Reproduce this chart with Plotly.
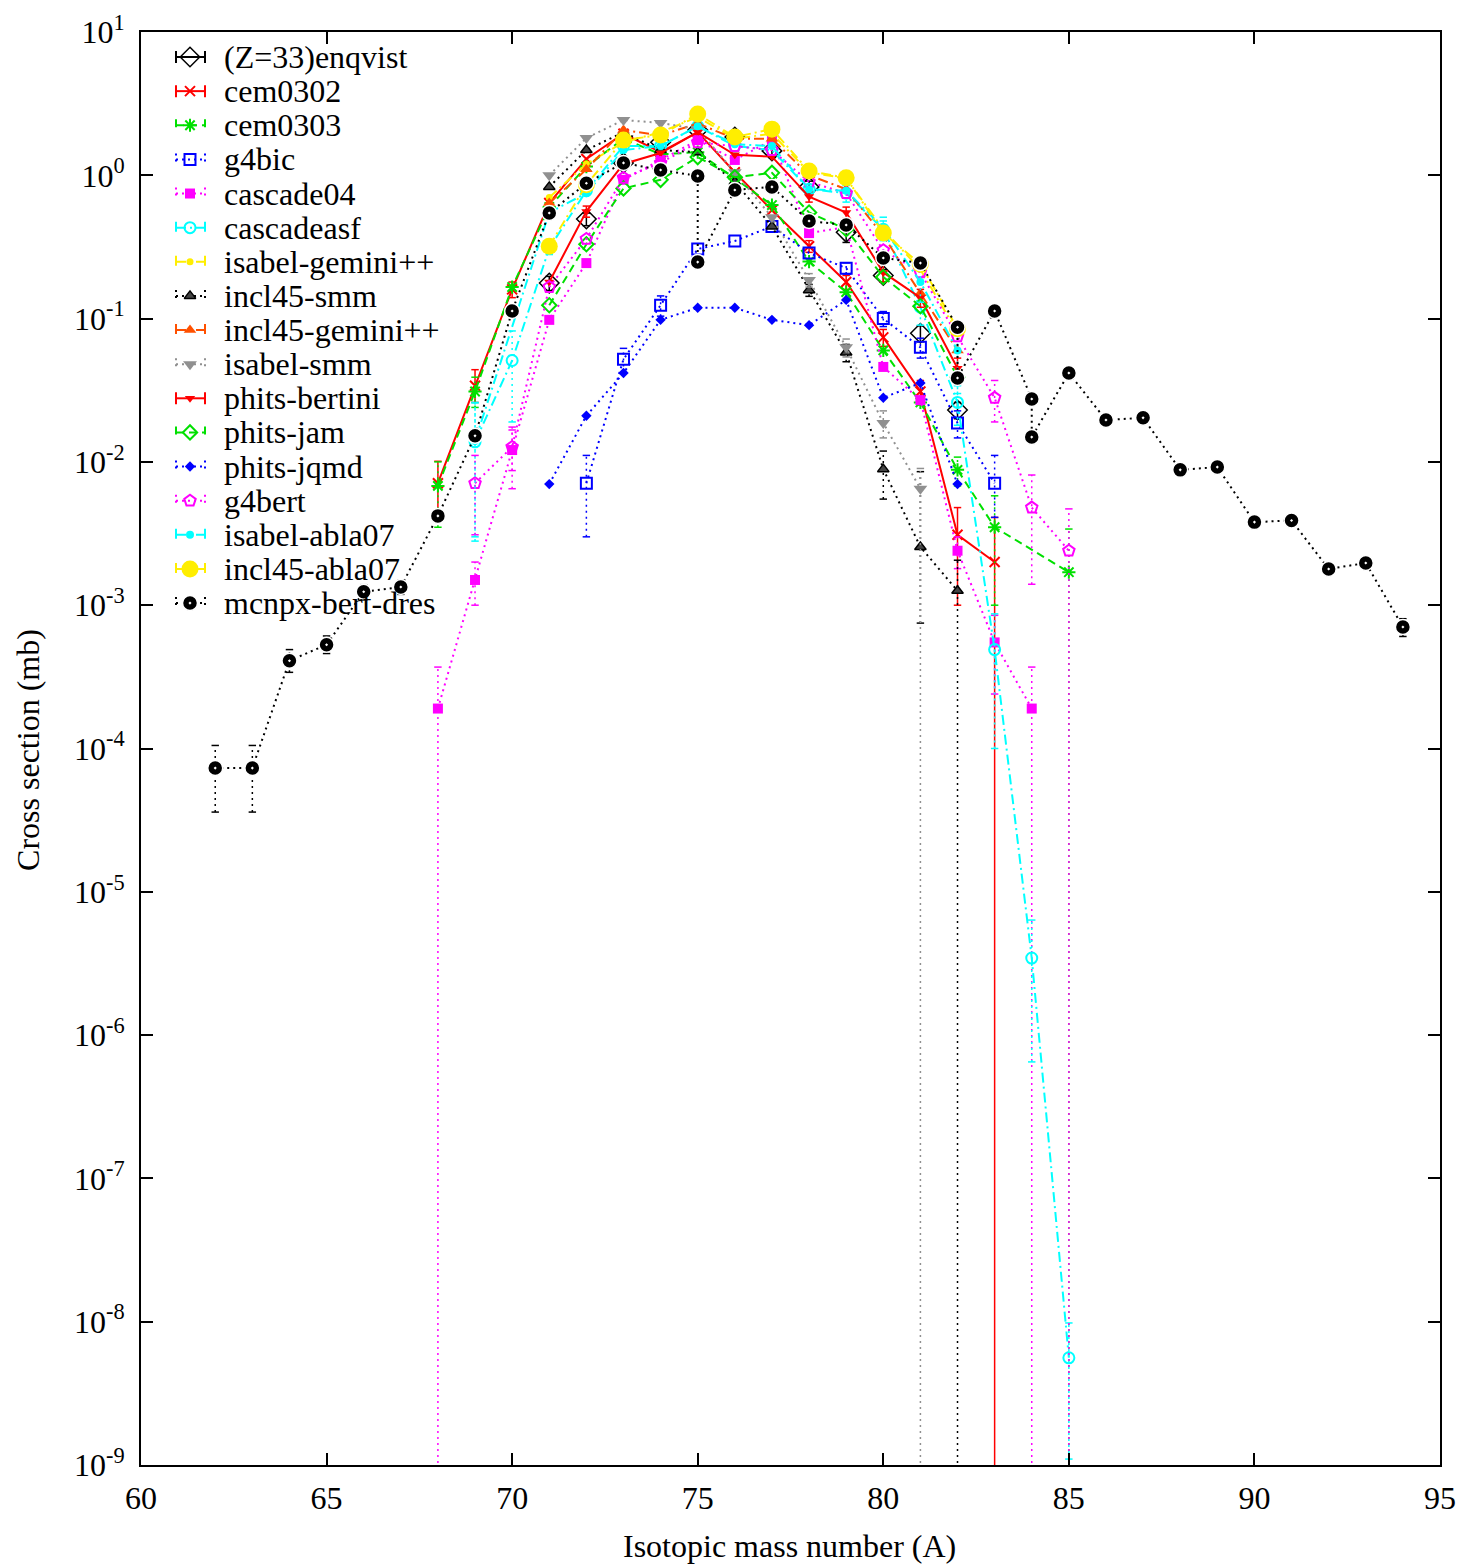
import plotly.graph_objects as go

# ---------------- data ----------------
A_enqvist = [71, 72, 73, 74, 75, 76, 77, 78, 79, 80, 81, 82]
v_enqvist = [0.177, 0.495, 1.22, 1.70, 2.07, 1.85, 1.48, 0.83, 0.40, 0.20, 0.079, 0.023]
e_enqvist = {71: (0.02, 0.02), 72: (0.05, 0.05), 73: (0.12, 0.12), 74: (0.15, 0.15), 75: (0.2, 0.2),
             76: (0.18, 0.18), 77: (0.15, 0.15), 78: (0.08, 0.08), 79: (0.06, 0.06), 80: (0.02, 0.02),
             81: (0.01, 0.01), 82: (0.003, 0.003)}

A_cem0302 = [68, 69, 70, 71, 72, 73, 74, 75, 76, 77, 78, 79, 80, 81, 82, 83]
v_cem0302 = [0.0071, 0.034, 0.16, 0.64, 1.30, 1.95, 1.45, 2.0, 1.05, 0.57, 0.32, 0.18, 0.074, 0.031, 0.0031, 0.002]
e_cem0302 = {68: (0.003, 0.003), 69: (0.010, 0.008), 70: (0.02, 0.02), 78: (0.03, 0.03), 79: (0.02, 0.02),
             80: (0.01, 0.01), 81: (0.006, 0.006), 82: (0.0017, 0.0021), 83: (0.0021, 0.002)}

A_cem0303 = [68, 69, 70, 71, 72, 73, 74, 75, 76, 77, 78, 79, 80, 81, 82, 83, 85]
v_cem0303 = [0.0068, 0.031, 0.166, 0.60, 1.15, 1.80, 1.40, 1.45, 0.95, 0.62, 0.25, 0.153, 0.06, 0.026, 0.0088, 0.0035, 0.0017]
e_cem0303 = {68: (0.0032, 0.0033), 69: (0.008, 0.007), 82: (0.002, 0.002), 83: (0.0023, 0.0025), 85: (0.0017, 0.0017)}

A_g4bic = [72, 73, 74, 75, 76, 77, 78, 79, 80, 81, 82, 83]
v_g4bic = [0.0071, 0.052, 0.124, 0.306, 0.348, 0.44, 0.287, 0.225, 0.10, 0.063, 0.0187, 0.0071]
e_g4bic = {72: (0.004, 0.0041), 73: (0.01, 0.01), 74: (0.02, 0.02), 79: (0.02, 0.02), 80: (0.012, 0.012),
           81: (0.01, 0.01), 82: (0.004, 0.004), 83: (0.004, 0.003)}

A_cascade04 = [68, 69, 70, 71, 72, 73, 74, 75, 76, 77, 78, 79, 80, 81, 82, 83, 84]
v_cascade04 = [1.9e-4, 1.5e-3, 0.0121, 0.098, 0.244, 0.93, 1.28, 1.76, 1.28, 1.76, 0.395, 0.435, 0.046, 0.027, 0.0024, 5.5e-4, 1.9e-4]
e_cascade04 = {68: (1.8e-4, 1.9e-4), 69: (5e-4, 5e-4), 70: (0.0054, 0.0056), 82: (6e-4, 6e-4),
               83: (3e-4, 3.1e-4), 84: (1.8e-4, 1.9e-4)}

A_cascadeasf = [69, 70, 71, 72, 73, 74, 75, 76, 77, 78, 79, 80, 81, 82, 83, 84, 85]
v_cascadeasf = [0.0138, 0.051, 0.31, 0.78, 1.60, 1.60, 2.20, 1.60, 1.50, 0.80, 0.75, 0.42, 0.12, 0.026, 4.9e-4, 3.45e-6, 5.6e-9]
e_cascadeasf = {69: (0.012, 0.011), 70: (0.031, 0.032), 71: (0.03, 0.03), 79: (0.1, 0.1), 80: (0.06, 0.06),
                81: (0.03, 0.03), 82: (0.008, 0.008), 83: (3.8e-4, 3.9e-4), 84: (2.9e-6, 2.8e-6), 85: (4.2e-9, 4.5e-9)}

A_isabel_gemini = [71, 72, 73, 74, 75, 76, 77, 78, 79, 80, 81, 82]
v_isabel_gemini = [0.70, 1.20, 1.70, 2.00, 2.55, 1.80, 1.95, 1.05, 0.95, 0.42, 0.22, 0.08]

A_incl45_smm = [71, 72, 73, 74, 75, 76, 77, 78, 79, 80, 81, 82]
v_incl45_smm = [0.83, 1.50, 2.00, 1.50, 1.45, 0.90, 0.44, 0.158, 0.058, 0.0089, 0.00255, 0.00126]
e_incl45_smm = {78: (0.015, 0.015), 79: (0.008, 0.008), 80: (0.003, 0.0034), 81: (0.006, 0.0018), 82: (0.0008, 0.00126)}

A_incl45_gemini = [71, 72, 73, 74, 75, 76, 77, 78, 79, 80, 81, 82]
v_incl45_gemini = [0.64, 1.10, 2.07, 1.90, 2.30, 1.80, 1.80, 1.00, 0.80, 0.38, 0.15, 0.06]

A_isabel_smm = [71, 72, 73, 74, 75, 76, 77, 78, 79, 80, 81]
v_isabel_smm = [1.00, 1.82, 2.43, 2.32, 2.10, 1.05, 0.51, 0.186, 0.063, 0.0187, 0.0065]
e_isabel_smm = {78: (0.02, 0.02), 79: (0.009, 0.009), 80: (0.004, 0.004), 81: (0.0025, 0.0065)}

A_phits_bertini = [71, 72, 73, 74, 75, 76, 77, 78, 79, 80, 81, 82]
v_phits_bertini = [0.18, 0.56, 1.20, 1.43, 2.00, 1.39, 1.35, 0.71, 0.55, 0.21, 0.14, 0.045]
e_phits_bertini = {72: (0.05, 0.05), 78: (0.06, 0.06), 79: (0.05, 0.05), 80: (0.03, 0.03), 81: (0.02, 0.02), 82: (0.008, 0.008)}

A_phits_jam = [71, 72, 73, 74, 75, 76, 77, 78, 79, 80, 81, 82]
v_phits_jam = [0.124, 0.33, 0.81, 0.93, 1.34, 0.97, 1.04, 0.55, 0.42, 0.195, 0.122, 0.039]

A_phits_jqmd = [71, 72, 73, 74, 75, 76, 77, 78, 79, 80, 81, 82]
v_phits_jqmd = [0.007, 0.021, 0.0417, 0.098, 0.119, 0.119, 0.098, 0.09, 0.135, 0.028, 0.0355, 0.007]

A_g4bert = [69, 70, 71, 72, 73, 74, 75, 76, 77, 78, 79, 80, 81, 82, 83, 84, 85]
v_g4bert = [0.0071, 0.0127, 0.166, 0.36, 0.96, 1.22, 1.70, 1.60, 1.50, 0.90, 0.75, 0.30, 0.21, 0.075, 0.028, 0.0048, 0.0024]
e_g4bert = {69: (0.004, 0.004), 70: (0.004, 0.004), 83: (0.009, 0.009), 84: (0.0033, 0.0034), 85: (0.0023, 0.0024)}

A_isabel_abla07 = [69, 71, 72, 73, 74, 75, 76, 77, 78, 79, 80, 81, 82]
v_isabel_abla07 = [0.014, 0.55, 0.75, 1.50, 1.60, 2.20, 1.65, 1.60, 0.80, 0.78, 0.43, 0.18, 0.06]
e_isabel_abla07 = {69: (0.012, 0.011), 80: (0.08, 0.08), 81: (0.05, 0.05), 82: (0.03, 0.03)}

A_incl45_abla07 = [71, 72, 73, 74, 75, 76, 77, 78, 79, 80, 81, 82]
v_incl45_abla07 = [0.32, 0.86, 1.76, 1.91, 2.68, 1.85, 2.10, 1.07, 0.96, 0.395, 0.24, 0.085]

A_mcnpx = [62, 63, 64, 65, 66, 67, 68, 69, 70, 71, 72, 73, 74, 75, 75, 76, 77, 78, 79, 80, 81,
           82, 82, 83, 84, 84, 85, 86, 87, 88, 89, 90, 91, 92, 93, 94]
v_mcnpx = [7.3e-5, 7.3e-5, 4.1e-4, 5.3e-4, 1.24e-3, 1.34e-3, 4.2e-3, 0.0152, 0.113, 0.546, 0.88, 1.22,
           1.09, 0.99, 0.248, 0.79, 0.83, 0.48, 0.45, 0.265, 0.244, 0.087, 0.0385, 0.113, 0.0275,
           0.0149, 0.0417, 0.0196, 0.0203, 0.0088, 0.0092, 0.0038, 0.0039, 0.00179, 0.00197, 0.000705]
e_mcnpx = {62: (3.2e-5, 3.7e-5), 63: (3.2e-5, 3.7e-5), 64: (8e-5, 7e-5), 65: (8e-5, 7e-5),
           66: (1.5e-4, 1.5e-4), 67: (1.5e-4, 1.5e-4), 92: (1.5e-4, 1.5e-4), 93: (1.5e-4, 1.5e-4),
           94: (1e-4, 1e-4)}

x_ticks = [60, 65, 70, 75, 80, 85, 90, 95]
y_exps = [1, 0, -1, -2, -3, -4, -5, -6, -7, -8, -9]

# ---------------- styles ----------------
RED, GREEN, BLUE, MAG, CYAN = '#ff0000', '#00e000', '#0000ff', '#ff00ff', '#00ffff'
YEL, BLACK, ORANGE, GRAY = '#ffee00', '#000000', '#ff5000', '#909090'
DOT, DASH, DASHDOT = '2px,4px', '8px,5px', '10px,4px,2px,4px'
FONT = 'Liberation Serif'
FS = 32
CAP = 0.1          # half width of the error-bar caps (in A units)
FLOOR = 1e-12      # lower end for error bars that reach zero (drawn off the bottom)

series = [
    dict(name='(Z=33)enqvist', A=A_enqvist, v=v_enqvist, err=e_enqvist, color=BLACK, dash=None,
         marker=dict(symbol='diamond-open', size=15, color=BLACK, line=dict(width=1.5, color=BLACK))),
    dict(name='cem0302', A=A_cem0302, v=v_cem0302, err=e_cem0302, color=RED, dash='solid',
         marker=dict(symbol='x-thin-open', size=10, color=RED, line=dict(width=2, color=RED))),
    dict(name='cem0303', A=A_cem0303, v=v_cem0303, err=e_cem0303, color=GREEN, dash=DASH,
         marker=dict(symbol='asterisk-open', size=11, color=GREEN, line=dict(width=2, color=GREEN))),
    dict(name='g4bic', A=A_g4bic, v=v_g4bic, err=e_g4bic, color=BLUE, dash=DOT,
         marker=dict(symbol='square-open', size=11, color=BLUE, line=dict(width=2, color=BLUE))),
    dict(name='cascade04', A=A_cascade04, v=v_cascade04, err=e_cascade04, color=MAG, dash=DOT,
         marker=dict(symbol='square', size=10, color=MAG, line=dict(width=0))),
    dict(name='cascadeasf', A=A_cascadeasf, v=v_cascadeasf, err=e_cascadeasf, color=CYAN, dash=DASHDOT,
         marker=dict(symbol='circle-open', size=11, color=CYAN, line=dict(width=2, color=CYAN))),
    dict(name='isabel-gemini++', A=A_isabel_gemini, v=v_isabel_gemini, err={}, color=YEL, dash=DASHDOT,
         marker=dict(symbol='circle', size=7, color=YEL, line=dict(width=0))),
    dict(name='incl45-smm', A=A_incl45_smm, v=v_incl45_smm, err=e_incl45_smm, color=BLACK, dash=DOT,
         marker=dict(symbol='triangle-up', size=10, color='#444444', line=dict(width=1.5, color=BLACK))),
    dict(name='incl45-gemini++', A=A_incl45_gemini, v=v_incl45_gemini, err={}, color=ORANGE, dash=DASHDOT,
         marker=dict(symbol='triangle-up', size=11, color=ORANGE, line=dict(width=0))),
    dict(name='isabel-smm', A=A_isabel_smm, v=v_isabel_smm, err=e_isabel_smm, color=GRAY, dash=DOT,
         marker=dict(symbol='triangle-down', size=12, color=GRAY, line=dict(width=0))),
    dict(name='phits-bertini', A=A_phits_bertini, v=v_phits_bertini, err=e_phits_bertini, color=RED, dash='solid',
         marker=dict(symbol='triangle-down', size=9, color=RED, line=dict(width=0))),
    dict(name='phits-jam', A=A_phits_jam, v=v_phits_jam, err={}, color=GREEN, dash=DASH,
         marker=dict(symbol='diamond-open', size=11, color=GREEN, line=dict(width=2, color=GREEN))),
    dict(name='phits-jqmd', A=A_phits_jqmd, v=v_phits_jqmd, err={}, color=BLUE, dash=DOT,
         marker=dict(symbol='diamond', size=8, color=BLUE, line=dict(width=0))),
    dict(name='g4bert', A=A_g4bert, v=v_g4bert, err=e_g4bert, color=MAG, dash=DOT,
         marker=dict(symbol='pentagon-open', size=12, color=MAG, line=dict(width=2, color=MAG))),
    dict(name='isabel-abla07', A=A_isabel_abla07, v=v_isabel_abla07, err=e_isabel_abla07, color=CYAN, dash=DASHDOT,
         marker=dict(symbol='circle', size=8, color=CYAN, line=dict(width=0))),
    dict(name='incl45-abla07', A=A_incl45_abla07, v=v_incl45_abla07, err={}, color=YEL, dash=DASHDOT,
         marker=dict(symbol='circle', size=17, color=YEL, line=dict(width=0))),
    dict(name='mcnpx-bert-dres', A=A_mcnpx, v=v_mcnpx, err=e_mcnpx, color=BLACK, dash=DOT,
         marker=dict(symbol='circle-dot', size=15, color=BLACK, line=dict(width=1.5, color='white'))),
]

fig = go.Figure()

for s in series:
    dash = s['dash'] or 'solid'
    # error bars drawn as line segments in the series' own line style
    if s['err']:
        sx, sy, cx, cy = [], [], [], []
        for a, (up, dn) in s['err'].items():
            v = s['v'][s['A'].index(a)]
            hi = v + up
            lo = v - dn
            sx += [a, a, None]
            sy += [lo if lo > 0 else FLOOR, hi, None]
            cx += [a - CAP, a + CAP, None]
            cy += [hi, hi, None]
            if lo > 0:
                cx += [a - CAP, a + CAP, None]
                cy += [lo, lo, None]
        line_style = 'solid' if s['dash'] in (None, 'solid') else DOT
        fig.add_trace(go.Scatter(x=sx, y=sy, mode='lines', showlegend=False, hoverinfo='skip',
                                 line=dict(color=s['color'], width=1.5, dash=line_style)))
        fig.add_trace(go.Scatter(x=cx, y=cy, mode='lines', showlegend=False, hoverinfo='skip',
                                 line=dict(color=s['color'], width=1.5)))
    mode = 'markers' if s['dash'] is None else 'lines+markers'
    fig.add_trace(go.Scatter(
        x=s['A'], y=s['v'], mode=mode, name=s['name'], showlegend=False,
        line=dict(color=s['color'], width=2, dash=dash),
        marker=s['marker'], cliponaxis=True))

# ---------------- custom legend (overlay axes in page pixels) ----------------
leg_x0, leg_x1, leg_xm, leg_tx = 176, 205, 190, 222
leg_y0, leg_dy = 57, 34.13
annotations = []
for k, s in enumerate(series):
    yk = leg_y0 + k * leg_dy
    fig.add_trace(go.Scatter(
        x=[leg_x0, leg_x0, None, leg_x0, leg_x1, None, leg_x1, leg_x1],
        y=[yk - 6, yk + 6, None, yk, yk, None, yk - 6, yk + 6],
        mode='lines', xaxis='x2', yaxis='y2', showlegend=False, hoverinfo='skip',
        line=dict(color=s['color'], width=2, dash=s['dash'] or 'solid')))
    fig.add_trace(go.Scatter(
        x=[leg_xm], y=[yk], mode='markers', xaxis='x2', yaxis='y2', showlegend=False,
        hoverinfo='skip', marker=s['marker']))
    annotations.append(dict(x=leg_tx, y=yk, xref='x2', yref='y2', text=s['name'], showarrow=False,
                            xanchor='left', yanchor='middle',
                            font=dict(family=FONT, size=FS, color='black')))

# axis titles and the cut-off title (plot area: page x 141..1440, y 32..1465)
annotations.append(dict(x=0.4996, y=-0.0565, xref='paper', yref='paper', text='Isotopic mass number (A)',
                        showarrow=False, xanchor='center', yanchor='middle',
                        font=dict(family=FONT, size=FS, color='black')))
annotations.append(dict(x=-0.087, y=0.499, xref='paper', yref='paper', text='Cross section (mb)',
                        showarrow=False, xanchor='center', yanchor='middle', textangle=-90,
                        font=dict(family=FONT, size=FS, color='black')))
annotations.append(dict(x=0.52, y=1.0195, xref='paper', yref='paper', text='(p,x)',
                        showarrow=False, xanchor='center', yanchor='bottom',
                        font=dict(family=FONT, size=FS, color='black')))

# the page body has an 8px margin, so the figure is sized/margined to put the
# plot area at page x 141..1440 and y 32..1465
fig.update_layout(
    width=1457, height=1556,
    margin=dict(l=133, r=25, t=24, b=99, autoexpand=False),
    paper_bgcolor='white', plot_bgcolor='white',
    font=dict(family=FONT, size=FS, color='black'),
    showlegend=False,
    annotations=annotations,
    xaxis=dict(range=[60, 95], tickvals=x_ticks, ticktext=[str(t) for t in x_ticks],
               ticks='inside', ticklen=12, tickwidth=1.5, tickcolor='black',
               mirror='allticks', showline=True, linecolor='black', linewidth=2,
               showgrid=False, zeroline=False, ticklabelstandoff=4, automargin=False),
    yaxis=dict(type='log', range=[-9, 1], tickvals=[10.0 ** e for e in y_exps],
               ticktext=['10<sup>%d</sup>' % e for e in y_exps],
               ticks='inside', ticklen=12, tickwidth=1.5, tickcolor='black',
               mirror='allticks', showline=True, linecolor='black', linewidth=2,
               showgrid=False, zeroline=False, ticklabelstandoff=8, automargin=False),
    xaxis2=dict(range=[141, 1440], overlaying='x', visible=False, fixedrange=True, automargin=False),
    yaxis2=dict(range=[1465, 32], overlaying='y', visible=False, fixedrange=True, automargin=False),
)

fig.write_html('out.html')
